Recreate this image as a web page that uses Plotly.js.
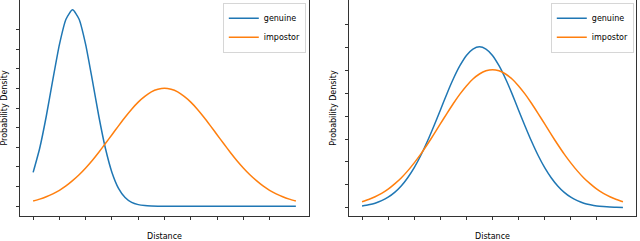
<!DOCTYPE html>
<html>
<head>
<meta charset="utf-8">
<script src="https://cdn.plot.ly/plotly-3.0.1.min.js"></script>
<style>html,body{margin:0;padding:0;background:#fff;}#chart{width:640px;height:241px;}</style>
</head>
<body>
<div id="chart"></div>
<script>
// Distance samples (shared by all series)
const distance = [0,0.25,0.5,0.75,1,1.25,1.5,1.75,2,2.25,2.5,2.75,3,3.25,3.5,3.75,4,4.25,4.5,4.75,5,
  5.25,5.5,5.75,6,6.25,6.5,6.75,7,7.25,7.5,7.75,8,8.25,8.5,8.75,9,9.25,9.5,9.75,10];

// Left panel
const leftGenuine = [1.72,2.95,4.58,6.44,8.23,9.52,10.0,9.52,8.23,6.44,4.58,2.95,1.72,0.91,0.44,0.19,0.08,0.03,0.01,0.0,0.0,
  0.0,0.0,0.0,0.0,0.0,0.0,0.0,0.0,0.0,0.0,0.0,0.0,0.0,0.0,0.0,0.0,0.0,0.0,0.0,0.0];
const leftImpostor = [0.26,0.36,0.48,0.63,0.81,1.03,1.30,1.60,1.95,2.33,2.75,3.19,3.64,4.09,4.53,4.94,5.30,5.59,5.82,5.95,6.00,
  5.95,5.82,5.59,5.30,4.94,4.53,4.09,3.64,3.19,2.75,2.33,1.95,1.60,1.30,1.03,0.81,0.63,0.48,0.36,0.26];

// Right panel
const rightGenuine = [0.08,0.13,0.20,0.31,0.46,0.67,0.95,1.31,1.75,2.28,2.89,3.56,4.26,4.97,5.63,6.20,6.65,6.93,7.03,6.93,6.65,
  6.20,5.63,4.97,4.26,3.56,2.89,2.28,1.75,1.31,0.95,0.67,0.46,0.31,0.20,0.13,0.08,0.05,0.03,0.02,0.01];
const rightImpostor = [0.26,0.36,0.48,0.63,0.81,1.04,1.30,1.61,1.96,2.34,2.76,3.20,3.66,4.11,4.55,4.96,5.32,5.62,5.84,5.98,6.03,
  5.98,5.84,5.62,5.32,4.96,4.55,4.11,3.66,3.20,2.76,2.34,1.96,1.61,1.30,1.04,0.81,0.63,0.48,0.36,0.26];

const seriesNames = ['genuine', 'impostor'];
const xTicks = [0,1,2,3,4,5,6,7,8,9];
const yTicksLeft = [0,1,2,3,4,5,6,7,8,9];
const yTicksRight = [0,1,2,3,4,5,6,7,8];

const blue = '#1f77b4', orange = '#ff7f0e';
const FONT = 'DejaVu Sans, sans-serif';

function tr(y, name, color, xa, ya, leg) {
  return {x: distance, y: y, name: name, type: 'scatter', mode: 'lines',
    line: {color: color, width: 1.5, shape: 'spline', smoothing: 0.6},
    xaxis: xa, yaxis: ya, legend: leg, hoverinfo: 'skip'};
}

const data = [
  tr(leftGenuine, seriesNames[0], blue, 'x', 'y', 'legend'),
  tr(leftImpostor, seriesNames[1], orange, 'x', 'y', 'legend'),
  tr(rightGenuine, seriesNames[0], blue, 'x2', 'y2', 'legend2'),
  tr(rightImpostor, seriesNames[1], orange, 'x2', 'y2', 'legend2')
];

function xax(domain, anchor) {
  return {domain: domain, anchor: anchor, range: [-0.5, 10.5], tickvals: xTicks,
    showticklabels: false, ticks: 'outside', ticklen: 3.5, tickwidth: 0.8, tickcolor: '#000',
    showline: true, mirror: true, linecolor: '#000', linewidth: 0.8, showgrid: false, zeroline: false,
    title: {text: 'Distance', font: {family: FONT, size: 8, color: '#000'}, standoff: 13},
    automargin: false};
}
function yax(domain, anchor, range, ticks) {
  return {domain: domain, anchor: anchor, range: range, tickvals: ticks,
    showticklabels: false, ticks: 'outside', ticklen: 3.5, tickwidth: 0.8, tickcolor: '#000',
    showline: true, mirror: true, linecolor: '#000', linewidth: 0.8, showgrid: false, zeroline: false,
    title: {text: 'Probability Density', font: {family: FONT, size: 8, color: '#000'}, standoff: 6},
    automargin: false};
}
function leg(xr) {
  return {x: xr, xanchor: 'right', y: 0.988, yanchor: 'top',
    bgcolor: 'rgba(255,255,255,0.8)', bordercolor: '#cccccc', borderwidth: 0.8,
    font: {family: FONT, size: 8, color: '#000'}, tracegroupgap: 0, itemwidth: 30};
}

const layout = {
  width: 640, height: 241,
  margin: {l: 0, r: 0, t: 0, b: 0},
  paper_bgcolor: '#fff', plot_bgcolor: '#fff',
  showlegend: true,
  font: {family: FONT, size: 8, color: '#000'},
  xaxis: xax([20/640, 309/640], 'y'),
  yaxis: yax([25/241, 1], 'x', [-0.5, 10.5], yTicksLeft),
  xaxis2: xax([349/640, 636/640], 'y2'),
  yaxis2: yax([25/241, 1], 'x2', [-0.36, 9.07], yTicksRight),
  legend: leg(306/640),
  legend2: leg(634/640)
};

Plotly.newPlot('chart', data, layout, {staticPlot: true, displayModeBar: false});
</script>
</body>
</html>
